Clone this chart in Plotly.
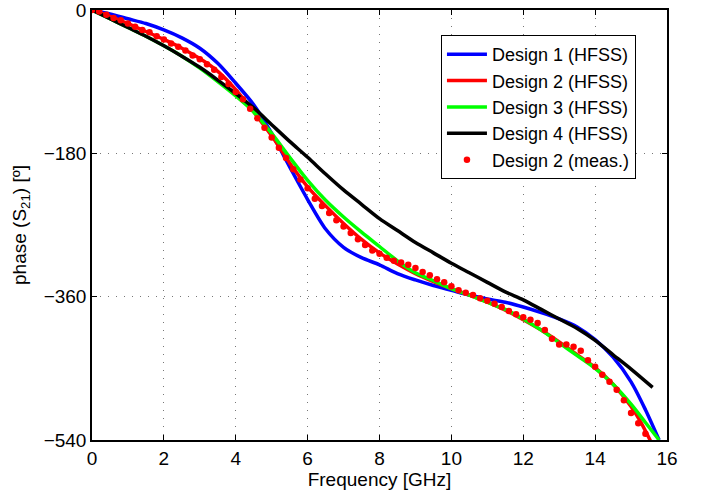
import plotly.graph_objects as go

# Design 1 (HFSS)
x_d1 = [0, 0.5, 1, 1.5, 2, 2.5, 3, 3.5, 4, 4.5, 5, 5.5, 6, 6.5, 7, 7.5, 8, 8.5, 9, 9.5, 10,
        10.5, 11, 11.5, 12, 12.5, 13, 13.5, 14, 14.5, 15, 15.4, 15.78]
y_d1 = [0, -5, -11, -17, -25, -35, -48, -67, -92, -119, -155, -197, -238, -275, -298, -311, -320,
        -331, -339, -346, -352, -358, -363, -367, -373, -380, -388, -398, -414, -436, -467, -502, -540]

# Design 2 (HFSS)
x_d2 = [0, 0.5, 1, 1.5, 2, 2.5, 3, 3.5, 4, 4.5, 5, 5.5, 6, 6.5, 7, 7.5, 8, 8.5, 9, 9.5, 10,
        10.5, 11, 11.5, 12, 12.5, 13, 13.5, 14, 14.5, 15, 15.3, 15.55]
y_d2 = [0, -8, -17, -27, -37, -48, -61, -77, -100, -128, -158, -192, -222, -246, -268, -288, -305,
        -319, -331, -341, -350, -358, -367, -377, -389, -402, -417, -433, -449, -470, -498, -520, -542]

# Design 3 (HFSS)
x_d3 = [0, 0.5, 1, 1.5, 2, 2.5, 3, 3.5, 4, 4.5, 5, 5.5, 6, 6.5, 7, 7.5, 8, 8.5, 9, 9.5, 10,
        10.5, 11, 11.5, 12, 12.5, 13, 13.5, 14, 14.5, 15, 15.4, 15.78]
y_d3 = [0, -11, -22, -33, -45, -58, -73, -90, -108, -128, -155, -185, -214, -239, -260, -279, -297,
        -315, -330, -340, -350, -358, -367, -376, -388, -402, -418, -434, -450, -470, -495, -518, -540]

# Design 4 (HFSS)
x_d4 = [0, 0.5, 1, 1.5, 2, 2.5, 3, 3.5, 4, 4.5, 5, 5.5, 6, 6.5, 7, 7.5, 8, 8.5, 9, 9.5, 10,
        10.5, 11, 11.5, 12, 12.5, 13, 13.5, 14, 14.5, 15, 15.6]
y_d4 = [0, -11, -22, -33, -45, -58, -72, -88, -105, -123, -144, -165, -185, -206, -226, -244, -262,
        -277, -292, -305, -318, -330, -342, -354, -364, -376, -388, -400, -415, -433, -451, -474]

# Design 2 (measured)
x_meas = [round(0.2 * i, 1) for i in range(78)]
y_meas = [0, -2, -6, -10, -13, -17, -21, -25, -28, -33,
          -37, -42, -46, -51, -57, -62, -68, -75, -84, -93,
          -103, -112, -124, -136, -148, -160, -173, -186, -200, -213,
          -224, -237, -246, -255, -264, -272, -280, -288, -295, -302,
          -306, -311, -315, -317, -320, -324, -329, -333, -338, -342,
          -347, -352, -355, -358, -362, -365, -369, -373, -378, -382,
          -386, -389, -393, -402, -413, -420, -420, -423, -428, -440,
          -448, -458, -467, -477, -490, -506, -519, -532]

x_ticks = [0, 2, 4, 6, 8, 10, 12, 14, 16]
y_ticks = [0, -180, -360, -540]
y_tick_text = ["0", "\u2212180", "\u2212360", "\u2212540"]

FONT = "Liberation Sans, Arial, sans-serif"
FS = 19

fig = go.Figure()
for xs, ys, name, col in [
    (x_d1, y_d1, "Design 1 (HFSS)", "#0000ff"),
    (x_d2, y_d2, "Design 2 (HFSS)", "#ff0000"),
    (x_d3, y_d3, "Design 3 (HFSS)", "#00ff00"),
    (x_d4, y_d4, "Design 4 (HFSS)", "#000000"),
]:
    fig.add_trace(go.Scatter(x=xs, y=ys, mode="lines", name=name,
                             line=dict(color=col, width=3.5, shape="spline", smoothing=0.8)))

fig.add_trace(go.Scatter(x=x_meas, y=y_meas, mode="markers", name="Design 2 (meas.)",
                         marker=dict(color="#ff0000", size=6.5)))

axis_common = dict(
    showline=True, linecolor="black", linewidth=1.5, mirror="ticks",
    ticks="inside", ticklen=5, tickcolor="black", tickwidth=1,
    showgrid=True, gridcolor="#777777", griddash="1px,7px", gridwidth=1,
    zeroline=False, automargin=False, ticklabeloverflow="allow",
    tickfont=dict(family=FONT, size=FS, color="black"),
)

fig.update_xaxes(range=[0, 16], tickvals=x_ticks, ticktext=[str(t) for t in x_ticks],
                 title=dict(text="Frequency [GHz]", font=dict(family=FONT, size=FS, color="black"),
                            standoff=0),
                 **axis_common)
fig.update_yaxes(range=[-540, 0], tickvals=y_ticks, ticktext=y_tick_text,
                 title=dict(text="phase (S<sub>21</sub>) [\u00ba]",
                            font=dict(family=FONT, size=FS, color="black"), standoff=12),
                 **axis_common)

fig.update_layout(
    width=702, height=495,
    margin=dict(l=92, r=35, t=10, b=55),
    paper_bgcolor="white", plot_bgcolor="white",
    font=dict(family=FONT, size=FS, color="black"),
    showlegend=True,
    legend=dict(x=0.946, y=0.942, xanchor="right", yanchor="top",
                bgcolor="white", bordercolor="black", borderwidth=1,
                font=dict(family=FONT, size=18, color="black"),
                tracegroupgap=0, itemwidth=40),
)

fig.write_html("out.html", config={"displayModeBar": False},
               post_script="document.body.style.margin='0px';")
